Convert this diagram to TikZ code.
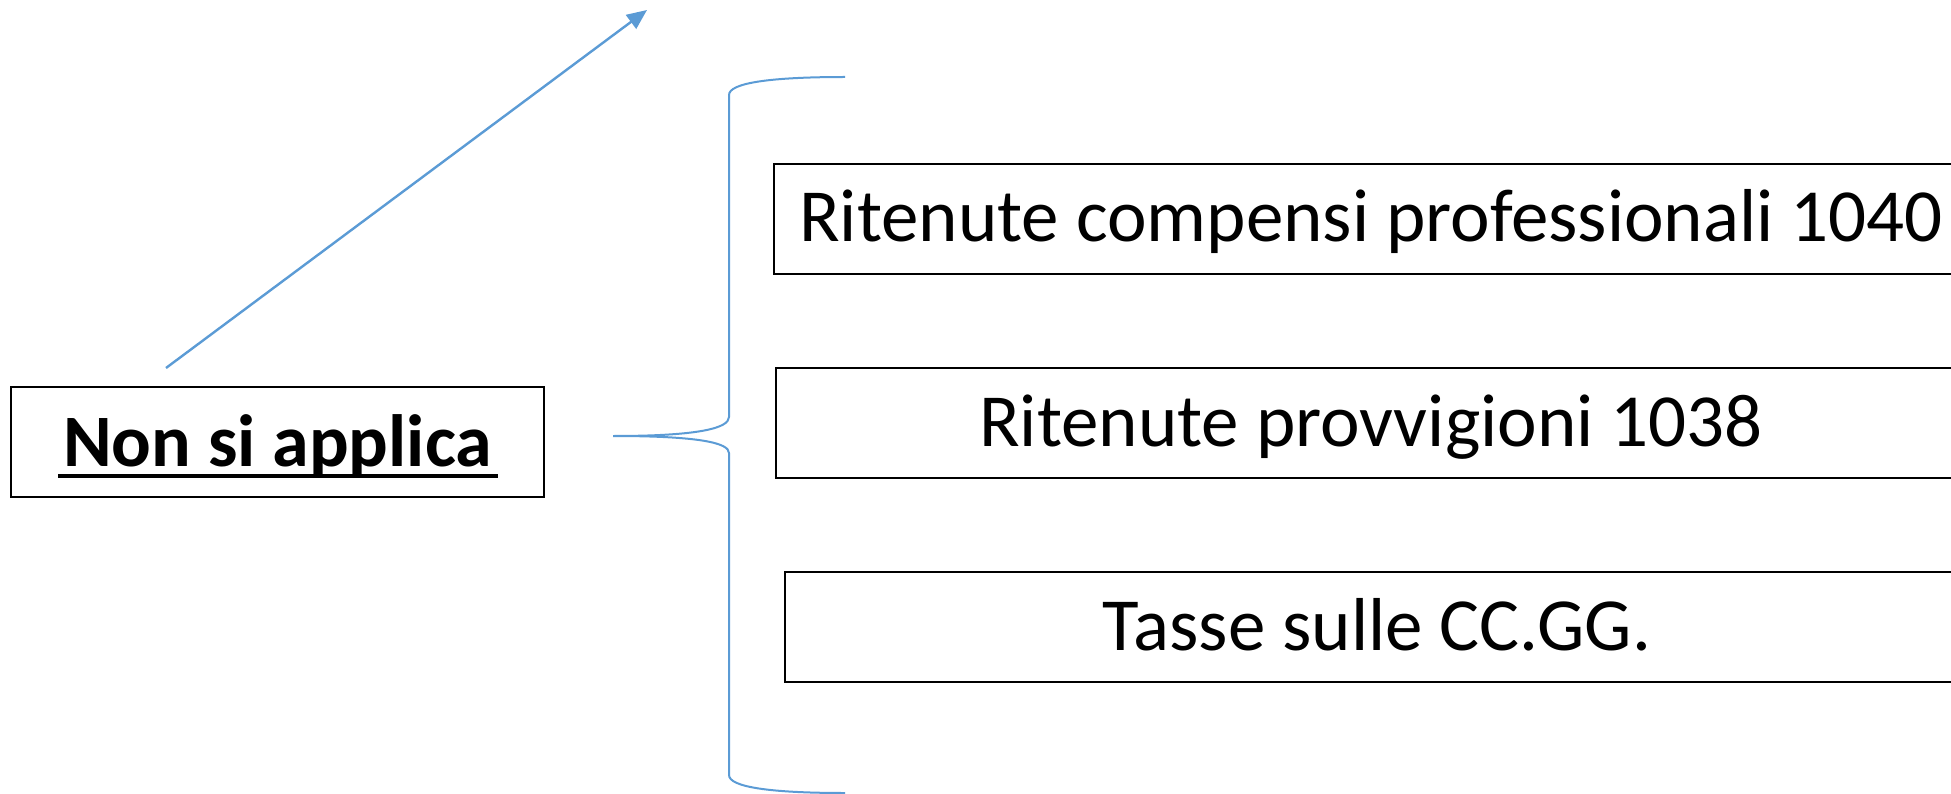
\documentclass[tikz,border=0pt]{standalone}
\usepackage{fontspec}
\setmainfont{Carlito}
\usetikzlibrary{arrows.meta}
\definecolor{accblue}{HTML}{5B9BD5}
\newcommand\myul[1]{\setbox0\hbox{#1}\rlap{\hspace{-5pt}\rule[-12pt]{\dimexpr\wd0+11pt\relax}{4pt}}\box0}
\tikzset{
  box/.style={draw=black, line width=1.4pt, minimum height=110pt, inner sep=0pt,
    text height=46pt, text depth=0pt},
  itemtext/.style={font=\fontsize{75}{90}\selectfont},
  bluearrow/.style={draw=accblue, line width=2.4pt, -{Triangle[length=20pt,width=17pt]}},
  brace/.style={draw=accblue, line width=2pt}
}
\begin{document}
\begin{tikzpicture}[x=1pt,y=-1pt]
\useasboundingbox (0,0) rectangle (1951,794);
\clip (0,0) rectangle (1951,794);
% left box
\node[box, minimum width=533pt, text height=48pt, font=\bfseries\fontsize{74}{90}\selectfont] (non) at (277.5,442) {\myul{Non si applica}};
% right boxes
\node[box, itemtext, minimum width=1194pt] (b1) at (1371,219) {Ritenute compensi professionali 1040};
\node[box, itemtext, minimum width=1190pt] (b2) at (1371,423) {Ritenute provvigioni 1038};
\node[box, itemtext, minimum width=1184pt] (b3) at (1377,627) {Tasse sulle CC.GG.};
% arrow
\coordinate (astart) at (166,368);
\coordinate (aend) at (647,10);
\draw[bluearrow] (astart) -- (aend);
% brace
\coordinate (btop) at (845,77);
\coordinate (btip) at (613,436);
\coordinate (bbot) at (845,793);
\draw[brace] (btop) .. controls (770,77) and (729,83) .. (729,95) -- (729,417)
  .. controls (729,428) and (700,436) .. (btip)
  .. controls (700,436) and (729,443) .. (729,453) -- (729,775)
  .. controls (729,787) and (770,793) .. (bbot);
\end{tikzpicture}
\end{document}
